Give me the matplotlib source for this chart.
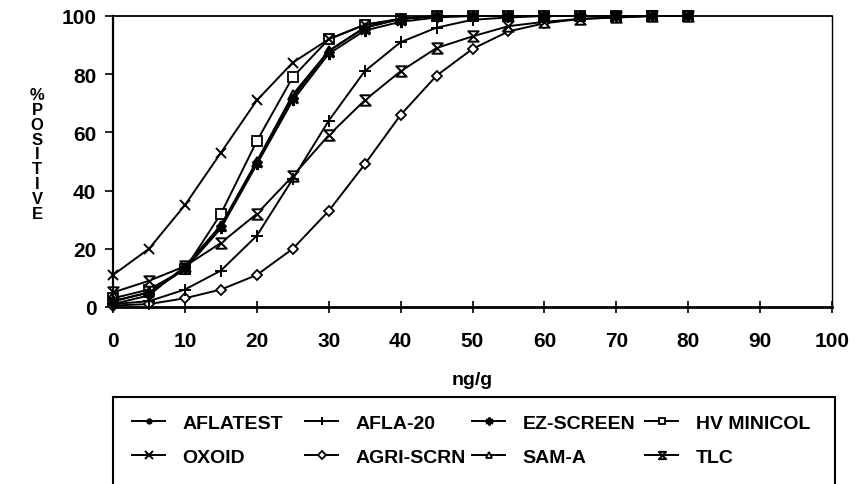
import matplotlib
matplotlib.use("Agg")
import matplotlib.pyplot as plt
from matplotlib.path import Path
from matplotlib.patches import Rectangle

plt.rcParams['font.family'] = ['Liberation Sans', 'DejaVu Sans']
plt.rcParams['font.weight'] = 'bold'

conc = [0, 5, 10, 15, 20, 25, 30, 35, 40, 45, 50, 55, 60, 65, 70, 75, 80]

aflatest  = [1, 4, 14, 28, 50, 72, 88, 96, 99, 100, 100, 100, 100, 100, 100, 100, 100]
afla20    = [1, 2, 6, 12.5, 24.5, 44, 64, 81, 91, 96, 98.7, 99.5, 100, 100, 100, 100, 100]
ezscreen  = [2, 5, 13, 27, 49, 71, 87, 95, 98, 99.5, 100, 100, 100, 100, 100, 100, 100]
hvminicol = [3, 6, 13, 32, 57, 79, 92, 97, 99, 100, 100, 100, 100, 100, 100, 100, 100]
oxoid     = [11, 20, 35, 53, 71, 84, 92, 97, 99, 100, 100, 100, 100, 100, 100, 100, 100]
agriscrn  = [0.5, 1, 3, 6, 11, 20, 33, 49, 66, 79.5, 88.7, 94.7, 97.5, 99, 99.5, 100, 100]
sama      = [2, 5, 13, 28, 50, 73, 88, 96, 99, 100, 100, 100, 100, 100, 100, 100, 100]
tlc       = [5, 9, 14, 22, 32, 45, 59, 71, 81, 89, 93, 96.5, 98, 99, 99.5, 100, 100]

xticks = [0, 10, 20, 30, 40, 50, 60, 70, 80, 90, 100]
yticks = [0, 20, 40, 60, 80, 100]

hourglass = Path([(-1, 1), (1, 1), (-1, -1), (1, -1), (-1, 1)],
                 [Path.MOVETO, Path.LINETO, Path.LINETO, Path.LINETO, Path.CLOSEPOLY])

# drawing order: open markers first, filled ones on top
series = [
    ("HV MINICOL", hvminicol, dict(marker='s', ms=7, mfc='white', mew=1.3)),
    ("SAM-A", sama, dict(marker='^', ms=7, mfc='white', mew=1.3)),
    ("AGRI-SCRN", agriscrn, dict(marker='D', ms=5.5, mfc='white', mew=1.3)),
    ("TLC", tlc, dict(marker=hourglass, ms=7.5, mfc='white', mew=1.4)),
    ("OXOID", oxoid, dict(marker='x', ms=7.5, mew=1.4)),
    ("AFLA-20", afla20, dict(marker='+', ms=9, mew=1.4)),
    ("EZ-SCREEN", ezscreen, dict(marker=(6, 2, 0), ms=8, mew=1.8)),
    ("AFLATEST", aflatest, dict(marker='o', ms=5, mfc='black')),
]

fig = plt.figure(figsize=(8.57, 4.85), dpi=100)
ax = fig.add_axes([113/857, 1-308/485, (832-113)/857, (308-17)/485])

handles = {}
for name, vals, st in series:
    ln, = ax.plot(conc, vals, color='black', lw=1.4, mec='black', clip_on=False,
                  label=name, **st)
    handles[name] = ln

ax.set_xlim(0, 100)
ax.set_ylim(0, 100)
ax.set_xticks(xticks)
ax.set_yticks(yticks)
ax.tick_params(axis='x', direction='inout', length=9, width=1.2, pad=13, labelsize=15)
ax.tick_params(axis='y', direction='out', length=6, width=1.2, pad=6, labelsize=15)
for lab in ax.get_xticklabels() + ax.get_yticklabels():
    lab.set_fontweight('bold')
ax.spines['bottom'].set_linewidth(2.0)
ax.spines['left'].set_linewidth(1.6)
ax.spines['top'].set_linewidth(1.3)
ax.spines['right'].set_linewidth(1.0)

ax.set_xlabel("ng/g", fontsize=14, fontweight='bold', labelpad=15)

fig.text(37/857, 1-155/485, "%\nP\nO\nS\nI\nT\nI\nV\nE", ha='center', va='center',
         fontsize=12, fontweight='bold', linespacing=0.98)

# legend frame
fig.patches.append(Rectangle((113/857, 1-488/485), (835-113)/857, (488-398)/485,
                             transform=fig.transFigure, fill=False, lw=1.5,
                             edgecolor='black'))

cols = [("AFLATEST", "OXOID"), ("AFLA-20", "AGRI-SCRN"),
        ("EZ-SCREEN", "SAM-A"), ("HV MINICOL", "TLC")]
col_x = [132, 305, 472, 645]
for (a, b), cx in zip(cols, col_x):
    fig.legend(handles=[handles[a], handles[b]], labels=[a, b], loc='upper left',
               bbox_to_anchor=(cx/857, 1-415/485), frameon=False,
               handlelength=1.7, handletextpad=0.9, borderpad=0, borderaxespad=0,
               labelspacing=0.85, prop=dict(size=14, weight='bold'), markerscale=0.7)

fig.savefig("out.png", dpi=100)
